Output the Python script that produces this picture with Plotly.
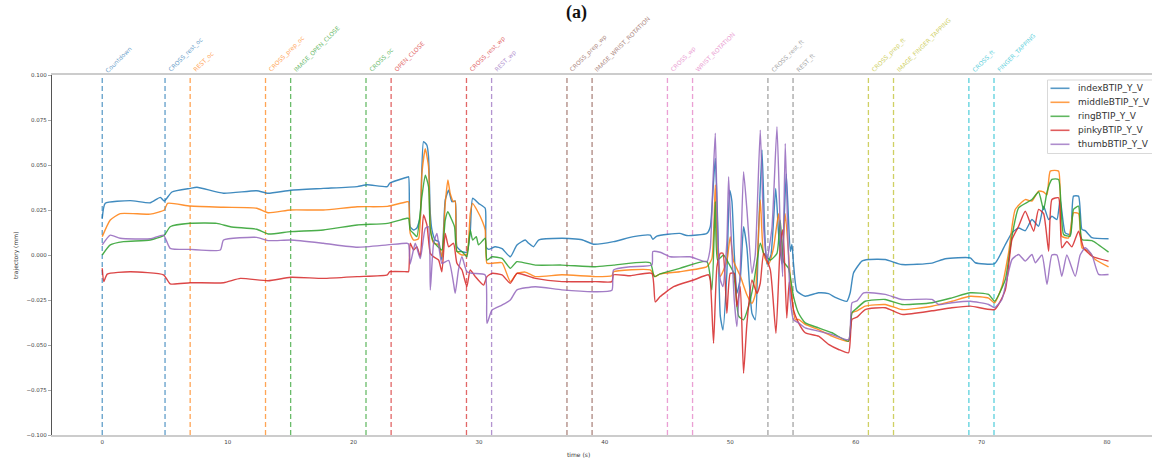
import plotly.graph_objects as go

# ---------------- data ----------------
index_t = [0, 0.24, 2.23, 3.82, 4.62, 4.94, 5.55, 7.0, 7.54, 9.66, 12.3, 13.2, 15, 17.6, 20.3, 21.1, 22.7, 22.9, 24.25,
           24.39, 24.52, 24.79, 25.05, 25.32, 25.58, 25.85, 25.98, 26.12, 26.25, 26.51, 26.78, 27.04, 27.31, 27.58, 27.84,
           28.1, 28.24, 28.64, 29.03, 29.3, 29.49, 29.96, 30.49, 30.55, 30.76, 31.29, 31.83, 32.49, 33.02, 33.68, 33.95,
           34.34, 34.74, 36.6, 38.19, 39.12, 40.71, 42.3, 43.63, 43.84, 44.16, 45.98, 46.55, 48.14, 48.41, 48.62, 48.81,
           48.99, 49.21, 49.42, 49.73, 49.95, 50.13, 50.32, 50.53, 50.8, 51.06, 51.33, 51.73, 51.99, 52.26, 52.53, 52.74,
           52.92, 53.24, 53.62, 53.85, 54.12, 54.46, 54.78, 54.91, 55.04, 55.31, 55.97, 57.03, 57.83, 58.36, 59.29, 59.55,
           59.82, 60.48, 61.01, 62.34, 63.67, 66.06, 67.12, 69.11, 69.51, 71.05, 71.9, 72.43, 72.96, 73.49, 74.02, 74.55,
           74.95, 75.35, 75.61, 76.01, 76.27, 76.67, 77.07, 77.33, 77.73, 78.0, 78.26, 78.8, 80.12]
index_y = [0.0204, 0.0287, 0.0302, 0.029, 0.032, 0.030, 0.035, 0.037, 0.0376, 0.0343, 0.0357, 0.0343, 0.036, 0.037, 0.038, 0.039, 0.038, 0.040, 0.0432,
           0.0435, 0.0157, 0.0139, 0.015, 0.0213, 0.063, 0.061, 0.0546, 0.023, 0.0139, 0.0083, 0.0075, -0.0028, 0.0306, 0.036, 0.0296,
           0.030, 0.0046, 0.0019, 0.0015, 0.013, 0.0315, 0.0287, 0.026, 0.0046, 0.0031, 0.0046, 0.0035, -0.001, 0.0056, 0.0083, 0.0065,
           0.0046, 0.0083, 0.0093, 0.0085, 0.006, 0.0074, 0.0102, 0.011, 0.0087, 0.0105, 0.012, 0.0108, 0.012, 0.0157, 0.035, 0.0537,
           0.020, -0.034, -0.0417, -0.010, 0.036, 0.030, 0.001, -0.0213, -0.013, 0.0157, 0.004, -0.0324, -0.036, 0.0139, 0.0583, 0.0139,
           -0.005, 0.0, 0.037, 0.012, -0.005, 0.045, 0.002, 0.0058, -0.005, -0.020, -0.0229, -0.021, -0.0215, -0.0235, -0.0257, -0.021,
           -0.0099, -0.0034, -0.0025, -0.0025, -0.0053, -0.0045, -0.0021, -0.0016, -0.0043, -0.0048, 0.0058, 0.0123, 0.015, 0.0135, 0.0197, 0.016,
           0.0271, 0.0197, 0.0215, 0.0197, 0.0308, 0.0123, 0.0115, 0.0327, 0.0327, 0.0142, 0.0135, 0.0096, 0.009]

middle_t = [0, 0.64, 1.43, 3.82, 4.94, 5.2, 7.0, 9.66, 12.3, 13.2, 15, 17.6, 20.3, 22.7, 24.25,
            24.39, 24.52, 24.79, 25.18, 25.45, 25.72, 25.98, 26.12, 26.38, 26.78, 27.04, 27.31, 27.52, 27.71, 27.97, 28.1,
            28.24, 28.64, 29.03, 29.3, 29.49, 29.83, 30.28, 30.49, 30.63, 31.03, 31.83, 32.49, 33.02, 33.68, 34.48, 36.6, 39.25,
            40.58, 40.71, 43.63, 44.03, 44.42, 45.98, 48.14, 48.54, 48.81, 48.99, 49.21, 49.73, 50.0, 50.27, 50.8, 51.33,
            51.73, 51.99, 52.39, 52.66, 53.06, 53.45, 53.85, 54.12, 54.38, 54.78, 55.18, 55.44,
            55.97, 57.03, 58.1, 59.42, 59.69, 60.09, 60.75, 62.34, 63.67, 66.06, 67.65, 69.11, 70.57, 71.05, 71.63, 72.16,
            72.69, 73.49, 74.02, 74.55, 74.95, 75.22, 75.48, 76.14, 76.4, 76.94, 77.33, 77.73, 78.0, 78.53, 79.06, 80.12]
middle_y = [0.0102, 0.0194, 0.023, 0.0227, 0.025, 0.0287, 0.0272, 0.0265, 0.026, 0.0235, 0.025, 0.025, 0.0268, 0.027, 0.0296,
            0.0296, 0.012, 0.0083, 0.009, 0.0454, 0.059, 0.049, 0.015, 0.0065, 0.0058, -0.001, 0.0287, 0.0417, 0.034, 0.0296, 0.030,
            0.002, 0.0, 0.0005, 0.023, 0.0287, 0.025, 0.0185, 0.0139, -0.0046, -0.0046, -0.0043, -0.0148, -0.0102, -0.0095, -0.012, -0.011, -0.012,
            -0.0115, -0.0093, -0.0083, -0.012, -0.0105, -0.0093, -0.0065, -0.002, 0.0389, 0.0, -0.012, -0.0035, 0.0102, -0.0035, -0.0117, -0.0222,
            -0.0269, -0.0222, 0.0306, 0.0, -0.005, 0.004, 0.023, -0.0035, 0.023, -0.012, -0.036, -0.0358,
            -0.0386, -0.0414, -0.0451, -0.0479, -0.0321, -0.031, -0.0284, -0.0275, -0.0303, -0.0285, -0.0257, -0.0229, -0.024, -0.0266, -0.0175, 0.0012,
            0.0253, 0.0308, 0.030, 0.0355, 0.035, 0.0335, 0.0466, 0.0466, 0.0104, 0.0095, 0.0234, 0.023, 0.004, 0.0021, -0.0025, -0.0066]

ring_t = [0, 0.64, 1.7, 3.82, 4.94, 5.41, 7.0, 9.13, 10.2, 12.3, 13.2, 15, 17.6, 20.3, 22.7, 24.25,
          24.39, 24.52, 24.79, 25.05, 25.45, 25.72, 25.98, 26.12, 26.38, 27.04, 27.31, 27.52, 27.84, 28.05, 28.24, 28.64,
          29.03, 29.3, 29.49, 29.78, 29.96, 30.49, 30.63, 31.03, 31.83, 32.49, 33.02, 34.48, 36.6, 39.25,
          40.71, 43.63, 43.95, 44.42, 45.98, 48.14, 48.54, 48.81, 48.99, 49.47, 49.87, 50.27, 50.67, 51.06, 51.46, 51.86,
          52.39, 52.66, 53.19, 53.72, 53.98, 54.25, 54.64, 55.04, 55.44,
          55.97, 57.03, 58.1, 59.42, 59.69, 60.09, 60.75, 62.34, 63.67, 66.06, 67.65, 69.11, 70.57, 71.05, 71.9, 72.43,
          72.96, 74.02, 74.55, 74.95, 75.22, 75.61, 76.14, 76.54, 77.07, 77.33, 77.73, 78.0, 78.8, 80.12]
ring_y = [0.0, 0.0056, 0.0074, 0.0083, 0.011, 0.0157, 0.0176, 0.0176, 0.0157, 0.0143, 0.0117, 0.013, 0.0139, 0.0167, 0.0176, 0.0204,
          0.0204, 0.0139, 0.012, 0.0102, 0.0324, 0.0444, 0.038, 0.0139, 0.0074, 0.0028, 0.0194, 0.024, 0.0194, 0.0157, 0.0019, 0.0019,
          -0.001, 0.0139, 0.0083, 0.0102, 0.0056, 0.0093, -0.0028, -0.001, -0.0019, -0.0074, -0.0037, -0.0056, -0.0056, -0.0065,
          -0.0056, -0.0043, -0.012, -0.0105, -0.0074, -0.0037, -0.0194, 0.0296, -0.0028, 0.0, -0.0046, -0.010, -0.034, -0.036, -0.0285, -0.016,
          0.0065, 0.0009, -0.0028, 0.0009, 0.0194, -0.0037, -0.0074, -0.0231, -0.0324,
          -0.0377, -0.0405, -0.0432, -0.0479, -0.0321, -0.0295, -0.0257, -0.0247, -0.0275, -0.0265, -0.0238, -0.021, -0.0219, -0.0257, -0.0136, 0.0104,
          0.0262, 0.0308, 0.035, 0.0252, 0.035, 0.042, 0.042, 0.0114, 0.0105, 0.0253, 0.0271, 0.0086, 0.008, 0.0016]

pinky_t = [0, 0.12, 0.4, 2.23, 4.88, 5.41, 7.0, 9.66, 11.0, 13.2, 15, 17.6, 20.3, 22.7, 22.9, 24.25,
           24.39, 24.52, 24.79, 25.05, 25.32, 25.58, 25.85, 26.12, 26.38, 26.78, 27.04, 27.31, 27.58, 27.97, 28.24, 28.64,
           29.03, 29.3, 29.7, 30.36, 30.63, 31.03, 31.83, 32.49, 33.02, 34.48, 36.6, 39.25,
           40.58, 40.71, 42.04, 43.76, 44.03, 44.42, 45.49, 47.08, 48.27, 48.41, 48.67, 48.94, 49.21, 49.42, 49.73, 50.0,
           50.32, 50.53, 50.8, 51.06, 51.33, 51.73, 52.13, 52.39, 52.66, 53.19, 53.64, 53.98, 54.2, 54.5, 54.7, 55.04, 55.44,
           55.97, 57.03, 57.83, 58.63, 59.42, 59.69, 60.09, 60.75, 62.34, 63.67, 66.06, 67.65, 69.11, 71.05, 71.9, 72.43,
           72.96, 73.49, 74.16, 74.55, 74.95, 75.35, 75.61, 76.14, 76.4, 76.8, 77.2, 77.73, 78.13, 78.8, 80.12]
pinky_y = [-0.0074, -0.0148, -0.0106, -0.0093, -0.011, -0.016, -0.0154, -0.0154, -0.013, -0.0143, -0.0124, -0.013, -0.012, -0.011, -0.0093, -0.0093,
           -0.0093, 0.0065, 0.0028, 0.0046, -0.001, 0.0222, 0.0167, 0.0009, -0.001, -0.0028, -0.0093, 0.012, 0.0046, 0.0065, -0.0046, -0.0083,
           -0.0176, -0.0083, -0.012, -0.0167, -0.012, -0.0102, -0.0111, -0.0157, -0.0102, -0.013, -0.0148, -0.0148,
           -0.0148, -0.011, -0.0115, -0.0102, -0.026, -0.0231, -0.0176, -0.0139, -0.011, -0.0139, -0.049, -0.0065, 0.001, 0.001, -0.0324, -0.0102,
           -0.0102, -0.0287, -0.0176, -0.0657, -0.038, -0.0139, -0.0213, -0.0157, 0.001, -0.0083, -0.0435, 0.005, 0.014, -0.035, -0.015, -0.0306, -0.0377,
           -0.0432, -0.0451, -0.0497, -0.0525, -0.0543, -0.0358, -0.0345, -0.0303, -0.0293, -0.033, -0.031, -0.0293, -0.0284, -0.0303, -0.0195, 0.0086,
           0.016, 0.0243, 0.0132, 0.0253, 0.023, 0.0021, 0.0308, 0.0318, 0.004, 0.0075, 0.0045, 0.0132, 0.004, -0.0007, -0.0034]

thumb_t = [0, 0.64, 1.43, 3.82, 4.88, 5.41, 7.0, 9.4, 9.66, 12.3, 13.2, 15, 17.6, 20.3, 22.7, 24.25,
           24.39, 24.52, 24.92, 25.32, 25.72, 25.98, 26.12, 26.38, 26.65, 27.04, 27.58, 27.97, 28.1, 28.37, 28.64, 29.03,
           29.49, 30.49, 30.63, 31.03, 31.83, 32.49, 33.02, 34.48, 36.6, 39.25,
           40.58, 40.71, 42.04, 43.76, 43.84, 44.42, 45.22, 46.8, 48.14, 48.41, 48.62, 48.81, 48.99, 49.21, 49.42, 49.73,
           49.87, 50.05, 50.32, 50.53, 50.8, 51.06, 51.33, 51.73, 51.99, 52.39, 52.66, 52.92, 53.32, 53.72, 53.98, 54.17,
           54.38, 54.57, 54.78, 55.04, 55.44,
           55.97, 57.03, 58.1, 59.42, 59.69, 60.09, 60.62, 62.34, 63.67, 66.06, 66.59, 67.65, 69.11, 70.57, 71.05, 71.63,
           72.43, 72.96, 73.49, 74.02, 74.29, 74.82, 75.22, 75.61, 76.01, 76.4, 76.8, 77.47, 77.86, 78.26, 78.8, 79.33, 80.12]
thumb_y = [0.0056, 0.011, 0.0093, 0.009, 0.011, 0.0037, 0.0031, 0.0028, 0.0083, 0.0098, 0.008, 0.0083, 0.0065, 0.0043, 0.0056, 0.0065,
           0.0061, -0.005, 0.0065, -0.002, 0.0148, 0.0157, -0.0194, 0.0065, 0.012, -0.0046, -0.003, -0.0157, -0.0213, -0.008, -0.001, -0.0093,
           -0.0102, -0.0111, -0.038, -0.0306, -0.0278, -0.025, -0.0194, -0.0176, -0.0194, -0.0204,
           -0.0196, -0.0083, -0.0065, -0.0056, 0.0019, 0.0015, -0.001, -0.001, -0.0037, 0.004, 0.040, 0.0676, 0.015, -0.0139, -0.0175, 0.007,
           0.0435, 0.015, -0.025, -0.0398, -0.008, 0.0463, 0.025, -0.0102, 0.0, 0.0694, 0.015, -0.0028, 0.015, 0.0713, 0.015, -0.012,
           0.062, 0.015, -0.025, -0.036, -0.0377,
           -0.0405, -0.0423, -0.0442, -0.047, -0.0266, -0.0255, -0.021, -0.0219, -0.0247, -0.0247, -0.0275, -0.0265, -0.0257, -0.0275, -0.0293, -0.0247,
           -0.0025, 0.0003, -0.0034, 0.0003, -0.0043, 0.0, -0.0164, 0.0, 0.0, -0.0118, 0.0, -0.0118, 0.0, 0.004, 0.0, -0.0108, -0.0108]

series_names = ["indexBTIP_Y_V", "middleBTIP_Y_V", "ringBTIP_Y_V", "pinkyBTIP_Y_V", "thumbBTIP_Y_V"]
series_t = [index_t, middle_t, ring_t, pinky_t, thumb_t]
series_y = [index_y, middle_y, ring_y, pinky_y, thumb_y]

event_names = ["Countdown", "CROSS_rest_oc", "REST_oc", "CROSS_prep_oc", "IMAGE_OPEN_CLOSE", "CROSS_oc",
               "OPEN_CLOSE", "CROSS_rest_wp", "REST_wp", "CROSS_prep_wp", "IMAGE_WRIST_ROTATION", "CROSS_wp",
               "WRIST_ROTATION", "CROSS_rest_ft", "REST_ft", "CROSS_prep_ft", "IMAGE_FINGER_TAPPING", "CROSS_ft",
               "FINGER_TAPPING"]
event_times = [0, 5, 7, 13, 15, 21, 23, 29, 31, 37, 39, 45, 47, 53, 55, 61, 63, 69, 71]
event_color_idx = [0, 0, 1, 1, 2, 2, 3, 3, 4, 5, 5, 6, 6, 7, 7, 8, 8, 9, 9]

x_ticks = [0, 10, 20, 30, 40, 50, 60, 70, 80]
y_ticks = [0.1, 0.075, 0.05, 0.025, 0.0, -0.025, -0.05, -0.075, -0.1]

# ---------------- style / layout helpers ----------------
tab10 = ["#1f77b4", "#ff7f0e", "#2ca02c", "#d62728", "#9467bd",
         "#8c564b", "#e377c2", "#7f7f7f", "#bcbd22", "#17becf"]
FONT = "DejaVu Sans"
W, H = 1152, 460
ML, MR, MT, MB = 52, 0, 75, 25
PW, PH = W - ML - MR, H - MT - MB


def px_x(px):
    return (px - ML) / PW


def px_y(py):
    return (H - MB - py) / PH


fig = go.Figure()
for i, (name, tt, yy) in enumerate(zip(series_names, series_t, series_y)):
    fig.add_trace(go.Scatter(x=tt, y=yy, mode="lines", name=name, showlegend=False,
                             line=dict(color=tab10[i], width=1.4, shape="spline", smoothing=0.5),
                             opacity=0.85))

for name, t, ci in zip(event_names, event_times, event_color_idx):
    fig.add_shape(type="line", xref="x", yref="y", x0=t, x1=t, y0=-0.1, y1=0.1,
                  line=dict(color=tab10[ci], width=1.3, dash="5px,3px"), opacity=0.7, layer="below")
    fig.add_annotation(x=t, y=0.1, xref="x", yref="y", text=name, showarrow=False,
                       textangle=-45, xanchor="left", yanchor="bottom", borderpad=0,
                       font=dict(family=FONT, size=6, color=tab10[ci]), opacity=0.7)

# legend drawn by hand (matplotlib-like compact spacing)
fig.add_shape(type="rect", xref="paper", yref="paper",
              x0=px_x(1047.5), x1=px_x(1160), y0=px_y(153.5), y1=px_y(80),
              line=dict(color="#d9d9d9", width=1), fillcolor="rgba(255,255,255,0.85)", layer="above")
for i, name in enumerate(series_names):
    yy = px_y(88.3 + 14 * i)
    fig.add_shape(type="line", xref="paper", yref="paper", x0=px_x(1050.5), x1=px_x(1069.5),
                  y0=yy, y1=yy, line=dict(color=tab10[i], width=1.6), opacity=0.75, layer="above")
    fig.add_annotation(x=px_x(1076.5), y=yy, xref="paper", yref="paper", text=name,
                       showarrow=False, xanchor="left", yanchor="middle", borderpad=0,
                       font=dict(family=FONT, size=9, color="#333"))

fig.add_annotation(x=px_x(576), y=px_y(13), xref="paper", yref="paper", text="<b>(a)</b>",
                   showarrow=False, xanchor="center", yanchor="middle", borderpad=0,
                   font=dict(family="Liberation Serif", size=18, color="#111"))
fig.add_annotation(x=px_x(16), y=px_y(256), xref="paper", yref="paper", text="trajectory (mm)",
                   showarrow=False, textangle=-90, xanchor="center", yanchor="middle",
                   font=dict(family=FONT, size=6, color="#333"))
fig.add_annotation(x=px_x(578), y=px_y(454), xref="paper", yref="paper", text="time (s)",
                   showarrow=False, xanchor="center", yanchor="middle",
                   font=dict(family=FONT, size=6, color="#333"))

fig.update_layout(
    width=W, height=H,
    margin=dict(l=ML, r=MR, t=MT, b=MB, autoexpand=False),
    paper_bgcolor="white", plot_bgcolor="white",
    font=dict(family=FONT, size=6, color="#444"),
    showlegend=False,
)
fig.update_xaxes(range=[-4, -4 + PW / 12.56], tickmode="array", tickvals=x_ticks,
                 ticktext=[str(v) for v in x_ticks], showgrid=False, zeroline=False,
                 showline=True, linecolor="#cccccc", linewidth=2, mirror=True,
                 ticks="", tickfont=dict(size=5.5, color="#444"), automargin=False)
fig.update_yaxes(range=[-0.1, 0.1], tickmode="array", tickvals=y_ticks,
                 ticktext=[("\u2212" if v < 0 else "") + f"{abs(v):.3f}" for v in y_ticks],
                 showgrid=False, zeroline=False,
                 showline=True, linecolor="#555555", linewidth=1.2,
                 ticks="outside", ticklen=3, tickcolor="#aaaaaa",
                 tickfont=dict(size=5.5, color="#444"), automargin=False)

fig.write_html("out.html", config={"displayModeBar": False},
               post_script="document.body.style.margin='0px';")
